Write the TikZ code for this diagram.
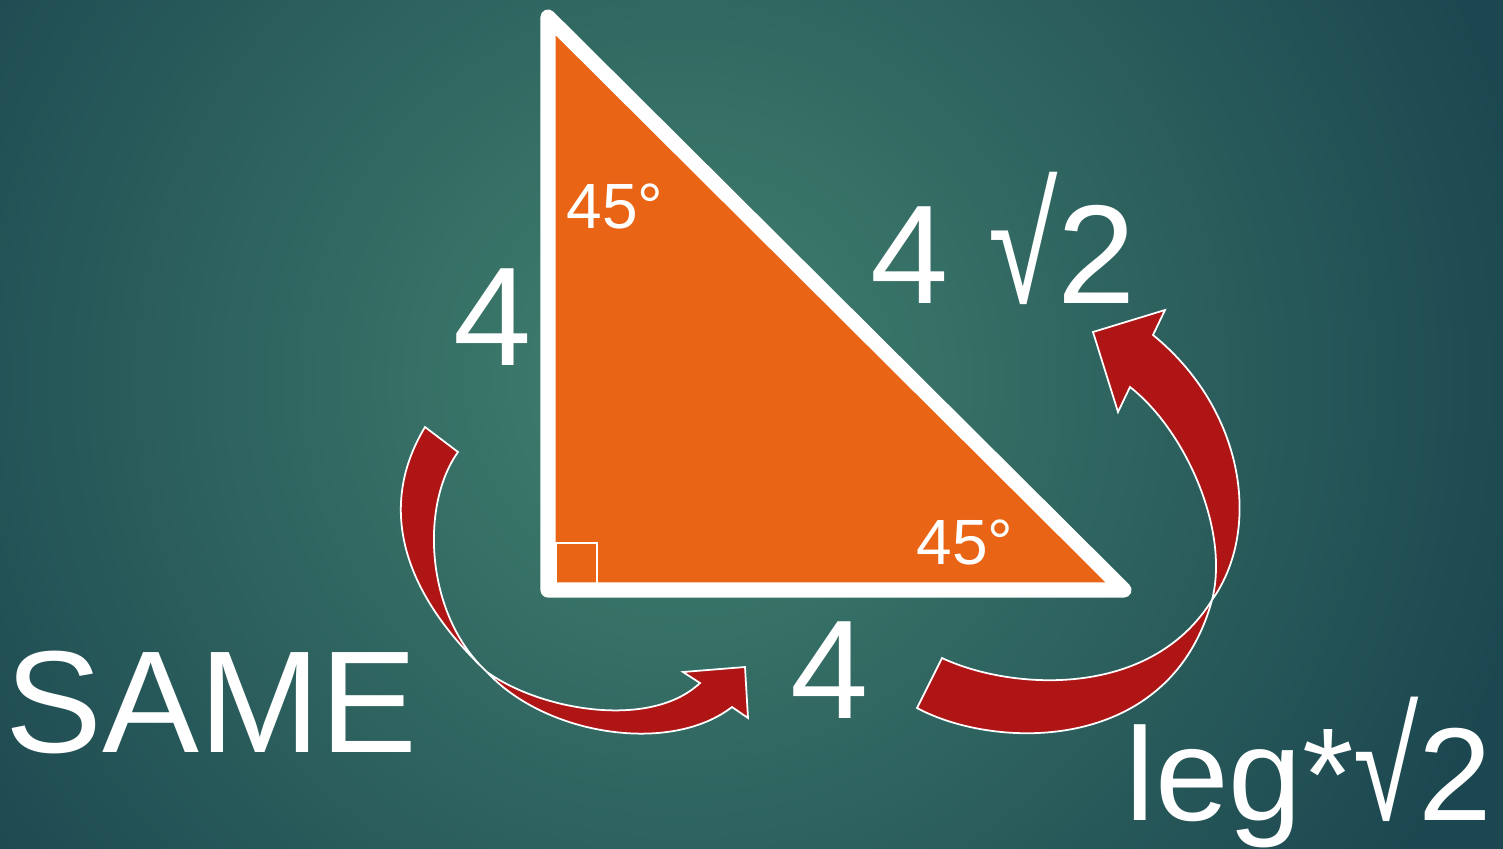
\documentclass[tikz,border=0pt]{standalone}
\usepackage{fontspec}
\setmainfont{Liberation Sans}
\usetikzlibrary{positioning}
\definecolor{cteal}{HTML}{1C4750}
\definecolor{clight}{HTML}{41816F}
\definecolor{corange}{HTML}{E96414}
\definecolor{cred}{HTML}{B01516}
\newcommand{\tallroot}{\scalebox{0.9}[1.18]{√}}

\begin{document}
\begin{tikzpicture}[x=0.01cm,y=-0.01cm,
  label/.style={text=white,inner sep=0pt},
  big/.style={label,font=\fontsize{40}{40}\selectfont},
  bigger/.style={label,font=\fontsize{41.3}{41}\selectfont},
  rulebox/.style={label,font=\fontsize{37.6}{38}\selectfont},
  angle/.style={label,font=\fontsize{18.2}{18}\selectfont},
  side/.style={draw=white,fill=corange,line width=4.3pt,line join=round},
  arrowbody/.style={draw=white,fill=cred,line width=0.5pt,line join=miter}]
\useasboundingbox (0,0) rectangle (1503,848);
% background
\begin{scope}
  \clip (0,0) rectangle (1503,848);
  \fill[cteal] (0,0) rectangle (1503,848);
  \shade[inner color=clight,outer color=cteal] (-190,-490) rectangle (1550,1250);
\end{scope}
% triangle
\coordinate (top) at (548,17);
\coordinate (corner) at (548,590);
\coordinate (right) at (1124,590);
\draw[side] (top) -- (corner) -- (right) -- cycle;
\draw[white,line width=0.6pt] (556,590) |- (597,543) -- (597,590);
% labels
\node[big,anchor=base] (leg1) at (493,365) {4};
\node[big,anchor=base] (leg2) at (830,718) {4};
\node[big,anchor=base west] (hyp) at (870,303) {4 \tallroot2};
\node[angle,anchor=base west] (ang1) at (566,228) {45°};
\node[angle,anchor=base west] (ang2) at (916,564) {45°};
\node[bigger,anchor=base west] (same) at (5,752) {SAME};
\node[rulebox,anchor=base west] (rule) at (1125,820) {leg*\tallroot2};
% curved arrows
\filldraw[arrowbody] (425,427) -- (458,452)
  .. controls (420,505) and (425,615) .. (487,672)
  .. controls (540,710) and (650,730) .. (700,683)
  -- (683,672) -- (745,667) -- (748,718) -- (732,707)
  .. controls (670,755) and (545,735) .. (487,672)
  .. controls (400,590) and (378,505) .. (425,427) -- cycle;
\filldraw[arrowbody] (942,658)
  .. controls (1010,690) and (1150,700) .. (1212,600)
  .. controls (1262,530) and (1245,410) .. (1153,335)
  -- (1165,310) -- (1093,332) -- (1118,412) -- (1130,387)
  .. controls (1185,430) and (1230,530) .. (1212,600)
  .. controls (1170,755) and (995,750) .. (917,708) -- cycle;
\end{tikzpicture}
\end{document}
